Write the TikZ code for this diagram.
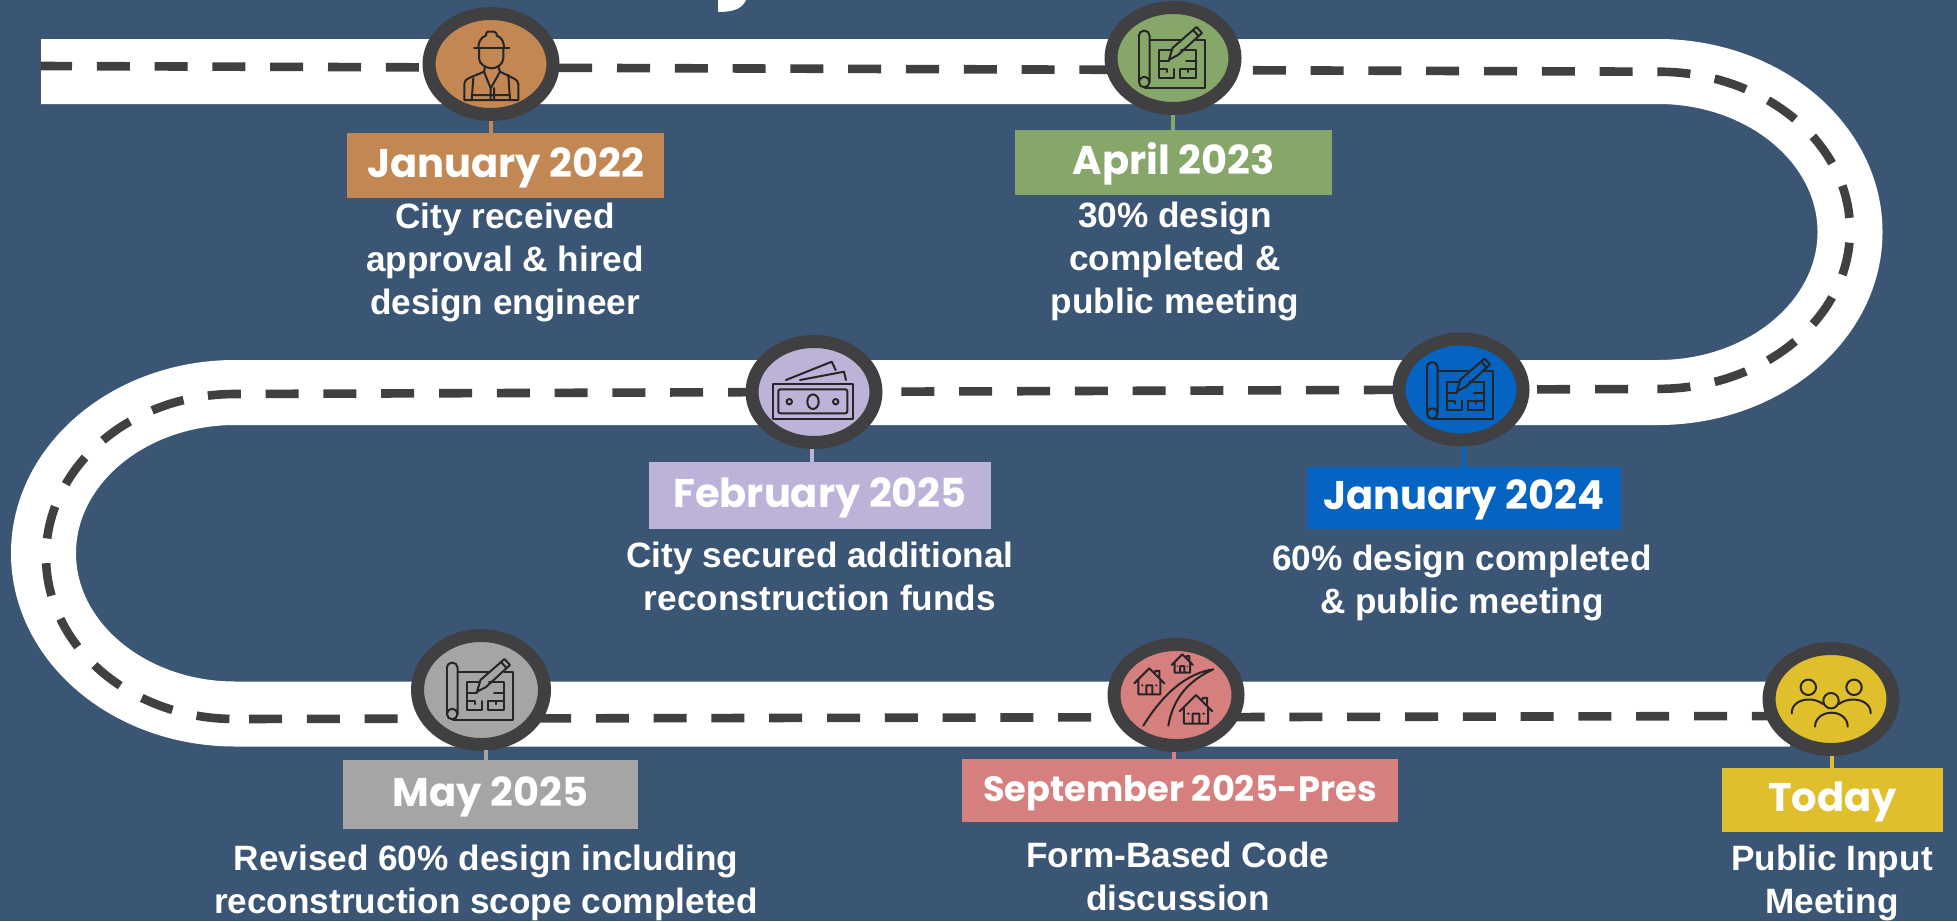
\documentclass[tikz,border=0pt]{standalone}
\usepackage{fontspec}
\setmainfont{Liberation Sans}
\newfontfamily\datefont{Poppins}
\usetikzlibrary{shapes.geometric}

\definecolor{bgblue}{HTML}{3B5674}
\definecolor{ringgray}{HTML}{404042}
\definecolor{cjan}{HTML}{C28753}
\definecolor{capr}{HTML}{87A66A}
\definecolor{cfeb}{HTML}{BDB2D7}
\definecolor{cblue}{HTML}{0563C1}
\definecolor{cgray}{HTML}{A5A5A5}
\definecolor{cpink}{HTML}{D67F7F}
\definecolor{cyell}{HTML}{DFBF2B}

\tikzset{
    stopring/.style={ellipse, draw=ringgray, line width=13pt, inner sep=0pt,
        minimum width=124pt, minimum height=101pt},
    datebox/.style={inner sep=0pt, text=white, text height=23pt, text depth=0pt,
        font=\datefont\bfseries\fontsize{40}{44}\selectfont},
    bodytext/.style={align=center, text=white, inner sep=0pt,
        font=\bfseries\fontsize{35.2}{43}\selectfont},
    stem/.style={line width=4pt},
    dashline/.style={ringgray, line width=8.6pt, dash pattern=on 33pt off 24.8pt},
    iconline/.style={line width=2pt, draw=black!85, line join=round, line cap=round},
    planicon/.pic={
        \draw[iconline] (-34.3,-22) arc[start angle=180, end angle=360, radius=5.5] -- (-23.3,24);
        \draw[iconline] (-34.3,-22) -- (-34.3,24);
        \draw[iconline] (-28.8,24) circle[radius=5.3];
        \draw[iconline] (-23.3,-18.3) -- (7.3,-18.3) (23.3,-18.3) -- (32,-18.3) -- (32,29.7) -- (-28,29.7);
        \draw[iconline] (-2,-7.7) -- (-14,-7.7) -- (-14,20.3) -- (1,20.3) -- (1,11)
            (-14,3) -- (-4,3) (-14,11) -- (-6,11) -- (-6,14);
        \draw[iconline] (8,-7.7) -- (22.7,-7.7) -- (22.7,20.3) -- (7,20.3) -- (7,11) -- (22.7,11)
            (22.7,3) -- (13,3) (15,11) -- (15,14);
        \draw[iconline] (-4,1.7) -- (-0.5,-10) -- (23.5,-31) -- (29,-25) -- (5,-3) -- cycle (20,-28) -- (25.5,-22);
    },
    workericon/.pic={
        \draw[iconline] (-17,-15.7) -- (18.3,-15.7);
        \draw[iconline] (-12.7,-15.7) .. controls (-12.7,-21) and (-11,-26.5) .. (-5,-28.5)
            -- (-5,-30.5) -- (-3,-32.5) -- (3,-32.5) -- (5.5,-30.5) -- (5.5,-28.5)
            .. controls (11.5,-26.5) and (13,-21) .. (13,-15.7);
        \draw[iconline] (-12,-15.7) -- (-12,-5.7) .. controls (-12,0) and (-5,4.3) .. (0.7,4.3) .. controls (6,4.3) and (12.3,0) .. (12.3,-5.7) -- (12.3,-15.7);
        \draw[iconline] (-6,2.7) -- (-7,7.7) -- (-22,14) .. controls (-25,15.5) and (-26.7,17) .. (-26.7,20) -- (-26.7,36) -- (27.3,36) -- (27.3,20) .. controls (27.3,17) and (25,15.5) .. (22,14) -- (9,7.7) -- (7.3,2.7);
        \draw[iconline] (-19.3,36) -- (-17.7,14.3) (19,36) -- (17.3,11) (-7,7.7) -- (-0.3,24.3) -- (9,7.7)
            (-0.3,24.3) -- (-0.3,36) (3,24) -- (3,36) (-19.3,31) -- (19,31);
    },
    moneyicon/.pic={
        \draw[iconline] (-41.3,-8) rectangle (38.7,27);
        \draw[iconline, rounded corners=2pt] (-35.7,-2.7) rectangle (33.3,21.3);
        \draw[iconline] (-1,9.7) ellipse[x radius=5.7, y radius=7.3];
        \draw[iconline] (-24.7,9.7) circle[radius=2.7] (21.7,9.7) circle[radius=2.7];
        \draw[iconline] (-28,-12) -- (17.7,-30.3) -- (21.7,-22) (-14,-12) -- (30,-20.3) -- (32,-12);
    },
    houseicon/.pic={
        \draw[iconline] (-15,15) -- (0,0) -- (15,15) (-11,12) -- (-11,26) -- (11,26) -- (11,12)
            (-3,26) -- (-3,17) -- (3,17) -- (3,26) (6,4) -- (6,2.5) -- (10,2.5) -- (10,9);
        \fill[black!85] (-7,17) circle[radius=1.2] (7,17) circle[radius=1.2];
    },
    roadicon/.pic={
        \pic at (-26.7,-26.7) {houseicon};
        \pic[scale=1.1] at (20,0) {houseicon};
        \pic[scale=0.7] at (6.3,-40.7) {houseicon};
        \draw[iconline] (-32.7,30.7) .. controls (-12.7,-1.7) and (10.7,-21.7) .. (37.3,-25.7)
            .. controls (14,-15) and (-2.7,1.7) .. (-7.7,30.7);
    },
    peopleicon/.pic={
        \draw[iconline] (-22.7,-11.7) circle[radius=7.7] (23,-11.7) circle[radius=7.7] (0,1.7) circle[radius=7.7];
        \draw[iconline] (-39.3,14.3) .. controls (-39.3,5) and (-31,0.5) .. (-22,0.5) .. controls (-17,0.5) and (-12,2) .. (-8,5);
        \draw[iconline] (39.7,14.3) .. controls (39.7,5) and (31,0.5) .. (22,0.5) .. controls (17,0.5) and (12,2) .. (8,5);
        \draw[iconline] (-16,27.7) .. controls (-16,19) and (-8,13.7) .. (0.5,13.7) .. controls (9,13.7) and (16.7,19) .. (16.7,27.7);
    },
}

\begin{document}
\begin{tikzpicture}[x=1pt, y=-1pt]
\fill[bgblue] (0,0) rectangle (1957,921);
\useasboundingbox (0,0) rectangle (1957,921);

% road
\fill[white] (718,0) -- (746,0) .. controls (742,9) and (733,12) .. (718,12) -- cycle;
\draw[white, line width=65pt] (41,71.5) -- (1658,71.5)
    arc[start angle=-90, end angle=90, x radius=192, y radius=160.5] -- (235,392.5)
    arc[start angle=-90, end angle=-270, x radius=191.5, y radius=160.75] -- (1790,714);
\draw[dashline, dash phase=2pt] (41,66) -- (1658,71.7)
    arc[start angle=-90, end angle=90, x radius=192, y radius=158.6] -- (1640,389);
\draw[dashline, dash phase=45.8pt] (1640,389) -- (235,394)
    arc[start angle=-90, end angle=-270, x radius=189, y radius=162.5];
\draw[dashline, dash phase=43.8pt] (235,719) -- (1790,716);

% stops
\node[stopring, fill=cjan] (jan22) at (491,64) {};
\node[stopring, fill=capr] (apr23) at (1173,58) {};
\node[stopring, fill=cfeb] (feb25) at (814,392) {};
\node[stopring, fill=cblue] (jan24) at (1461,389.5) {};
\node[stopring, fill=cgray, minimum width=127pt, minimum height=109pt] (may25) at (481,690) {};
\node[stopring, fill=cpink] (sep25) at (1176,695) {};
\node[stopring, fill=cyell] (today) at (1831,699) {};

\pic at (jan22) {workericon};
\pic at (apr23) {planicon};
\pic at (feb25) {moneyicon};
\pic at (jan24) {planicon};
\pic at (may25) {planicon};
\pic at (sep25) {roadicon};
\pic at (today) {peopleicon};

% date boxes
\node[datebox, fill=cjan, minimum width=317pt, minimum height=65pt] (jan22box) at (505.5,165.5) {January 2022};
\node[datebox, fill=capr, minimum width=317pt, minimum height=65pt] (apr23box) at (1173.5,162.5) {April 2023};
\node[datebox, fill=cfeb, minimum width=342pt, minimum height=67pt] (feb25box) at (820,495.5) {February 2025};
\node[datebox, fill=cblue, minimum width=314pt, minimum height=62pt] (jan24box) at (1464,498) {January 2024};
\node[datebox, fill=cgray, minimum width=295pt, minimum height=69pt] (may25box) at (490.5,794.5) {May 2025};
\node[datebox, fill=cpink, minimum width=436pt, minimum height=63pt, text height=21pt, font=\datefont\bfseries\fontsize{35.2}{40}\selectfont] (sep25box) at (1180,790.5) {September 2025-Pres};
\node[datebox, fill=cyell, minimum width=221pt, minimum height=64pt] (todaybox) at (1832.5,800) {Today};

% stems
\draw[stem, cjan] (jan22.south) -- (jan22.south |- jan22box.north);
\draw[stem, capr] (apr23.south) -- (apr23.south |- apr23box.north);
\draw[stem, cfeb] (feb25.south) ++(-2,0) -- (812,462);
\draw[stem, cblue] (jan24.south) ++(3,-1) -- (1464,467);
\draw[stem, cgray] (may25.south) ++(5,-1) -- (486,760);
\draw[stem, cpink] (sep25.south) ++(-2,0) -- (1174,759);
\draw[stem, cyell] (today.south) ++(1,0) -- (1832,768);

% texts
\node[bodytext] (jan22text) at (505,262) {City received\\approval \& hired\\design engineer};
\node[bodytext] (apr23text) at (1175,261) {30\% design\\completed \&\\public meeting};
\node[bodytext] (feb25text) at (820,576) {City secured additional\\reconstruction funds};
\node[bodytext] (jan24text) at (1462,582.5) {60\% design completed\\\& public meeting};
\node[bodytext] (may25text) at (486,882.5) {Revised 60\% design including\\reconstruction scope completed};
\node[bodytext] (sep25text) at (1178,876) {Form-Based Code\\discussion};
\node[bodytext] (todaytext) at (1832,883) {Public Input\\Meeting};
\end{tikzpicture}
\end{document}
